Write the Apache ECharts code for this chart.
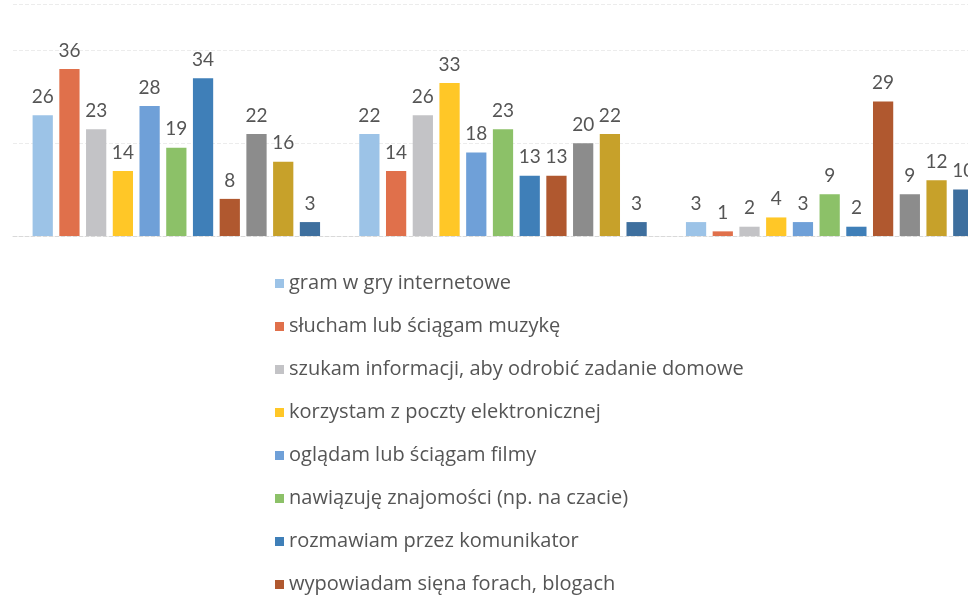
<!DOCTYPE html>
<html>
<head>
<meta charset="utf-8">
<script src="https://cdn.jsdelivr.net/npm/echarts@6/dist/echarts.min.js"></script>
<style>
  html, body { margin: 0; padding: 0; background: #fff; overflow: hidden; }
  /* wykres jest przycięty z prawej strony, dlatego div jest szerszy niż okno */
  #chart { width: 1000px; height: 597px; }
</style>
</head>
<body>
<div id="chart"></div>
<script>
  // grupy (podpisy osi nie są widoczne na skanie)
  const categories = ['grupa 1', 'grupa 2', 'grupa 3'];

  const seriesNames = [
    'gram w gry internetowe',
    'słucham lub ściągam muzykę',
    'szukam informacji, aby odrobić zadanie domowe',
    'korzystam z poczty elektronicznej',
    'oglądam lub ściągam filmy',
    'nawiązuję znajomości (np. na czacie)',
    'rozmawiam przez komunikator',
    'wypowiadam sięna forach, blogach',
    'pozycja 9',
    'pozycja 10',
    'pozycja 11'
  ];

  // wartości: [grupa 1, grupa 2, grupa 3]
  const s1 = [26, 22, 3];
  const s2 = [36, 14, 1];
  const s3 = [23, 26, 2];
  const s4 = [14, 33, 4];
  const s5 = [28, 18, 3];
  const s6 = [19, 23, 9];
  const s7 = [34, 13, 2];
  const s8 = [8, 13, 29];
  const s9 = [22, 20, 9];
  const s10 = [16, 22, 12];
  const s11 = [3, 3, 10];
  const values = [s1, s2, s3, s4, s5, s6, s7, s8, s9, s10, s11];

  const colors = ['#9cc3e7', '#e0704b', '#c3c3c6', '#ffc727', '#6fa0d8', '#8cc168',
                  '#3f7fb8', '#b0582f', '#8c8c8c', '#c7a12a', '#3e6f9e'];

  let myChart = echarts.init(document.getElementById('chart'));

  let series = values.map((v, i) => ({
    name: seriesNames[i],
    type: 'bar',
    data: v,
    barGap: '32%',
    barCategoryGap: '12%',
    itemStyle: { color: colors[i] },
    label: {
      show: true,
      position: 'top',
      distance: 9,
      color: '#555',
      fontSize: 19,
      fontFamily: 'Lato'
    }
  }));

  myChart.setOption({
    animation: false,
    color: colors,
    grid: { left: 13, right: 7, top: 4, bottom: 361, containLabel: false },
    legend: {
      orient: 'vertical',
      left: 270,
      top: 268,
      height: 1000,
      data: seriesNames.slice(0, 8),
      icon: 'rect',
      itemWidth: 9,
      itemHeight: 9,
      itemGap: 22,
      textStyle: { color: '#555', fontSize: 20, fontFamily: 'Open Sans', lineHeight: 21 }
    },
    xAxis: {
      type: 'category',
      data: categories,
      axisLine: { lineStyle: { color: '#d9d9d9', type: 'dashed' } },
      axisTick: { show: false },
      axisLabel: { show: false }
    },
    yAxis: {
      type: 'value',
      min: 0,
      max: 50,
      interval: 20,
      axisLabel: { show: false },
      axisLine: { show: false },
      axisTick: { show: false },
      splitLine: { lineStyle: { color: '#ececec', type: 'dashed' } }
    },
    series: series
  });
</script>
</body>
</html>
